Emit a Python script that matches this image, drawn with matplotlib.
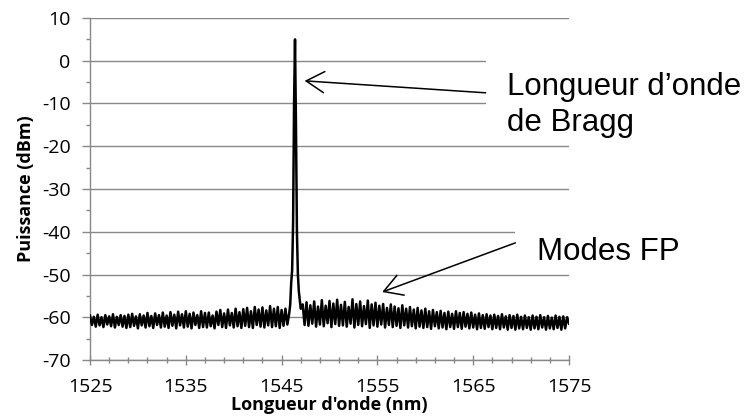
import numpy as np
import matplotlib
matplotlib.use("Agg")
import matplotlib.pyplot as plt
from matplotlib.patches import Rectangle

plt.rcParams["axes.unicode_minus"] = False

# spectre (pas de 0.2 nm hors du pic)
wl_left = np.arange(1525.0, 1545.81, 0.2)
pw_left = [
    -59.6, -61.8, -59.9, -62.2, -59.4, -61.9, -60.0, -62.3, -59.5, -61.7,
    -59.8, -62.1, -59.3, -62.4, -59.9, -61.8, -59.5, -62.2, -59.7, -62.5, -59.4,
    -62.3, -59.2, -62.0, -59.8, -62.6, -59.3, -61.9, -59.6, -62.4, -59.0,
    -62.1, -59.7, -62.5, -59.1, -61.8, -59.5, -62.4, -58.9, -62.2, -59.6,
    -62.5, -58.8, -62.0, -59.4, -62.6, -58.7, -61.9, -59.3, -62.4, -58.6,
    -62.2, -59.2, -62.6, -58.9, -61.8, -59.5, -62.5, -58.6, -62.3, -59.0,
    -62.4, -58.9, -62.1, -59.6, -62.6, -58.7, -61.8, -58.3, -62.3, -59.1,
    -62.5, -58.2, -61.9, -59.0, -62.4, -58.0, -62.1, -58.8, -62.5, -58.1,
    -62.0, -57.8, -62.3, -58.6, -62.5, -57.6, -61.8, -58.2, -62.2, -57.7,
    -62.4, -58.4, -61.9, -57.4, -62.3, -58.0, -62.1, -57.6, -62.5, -58.3,
    -62.0, -58.0, -61.7, -59.0,
]

# pic de Bragg
wl_peak = [1545.9, 1546.0, 1546.1, 1546.2, 1546.3, 1546.4, 1546.5, 1546.6, 1546.7, 1546.8, 1547.0]
pw_peak = [-57.0, -52.0, -49.0, -38.0, -10.0, 5.0, -15.0, -40.0, -50.0, -54.0, -58.0]

wl_right = np.arange(1547.2, 1575.01, 0.2)
pw_right = [
    -57.0, -61.8, -56.5, -62.0, -57.2, -61.5, -56.3, -62.2, -57.5, -61.7,
    -56.0, -62.1, -57.3, -61.4, -56.2, -62.3, -56.8, -61.6, -55.9, -62.0,
    -57.1, -61.9, -56.4, -62.2, -57.6, -61.5, -55.8, -62.4, -56.9, -61.8,
    -56.3, -62.1, -57.4, -61.6, -56.1, -62.5, -57.0, -61.9, -56.6, -62.2,
    -57.3, -61.7, -56.9, -62.4, -57.8, -61.8, -57.0, -62.3, -57.5, -62.0,
    -57.9, -62.5, -57.2, -61.9, -58.0, -62.4, -57.6, -62.1, -58.2, -62.6,
    -57.8, -62.2, -58.4, -62.5, -58.0, -62.3, -58.6, -62.7, -58.3, -62.1,
    -58.8, -62.6, -58.5, -62.4, -59.0, -62.8, -58.7, -62.3, -59.2, -62.7,
    -58.6, -62.3, -59.0, -62.7, -58.8, -62.2, -59.2, -62.6, -58.9, -62.4,
    -59.4, -62.8, -59.1, -62.5, -59.5, -62.7, -59.3, -62.3, -59.6, -62.8,
    -59.4, -62.5, -59.7, -62.8, -59.3, -62.4, -59.8, -62.9, -59.5, -62.5,
    -59.7, -62.9, -59.4, -62.6, -59.9, -62.8, -59.6, -62.5, -60.0, -62.9,
    -59.6, -62.6, -59.9, -62.8, -59.5, -62.4, -60.0, -62.9, -59.7, -62.6,
    -60.1, -62.8, -59.6, -62.5, -59.9, -62.9, -59.8, -62.6, -60.0, -61.5,
]

wl = np.concatenate([wl_left, wl_peak, wl_right])
pw = np.concatenate([pw_left, pw_peak, pw_right])

x_ticks = [1525, 1535, 1545, 1555, 1565, 1575]
y_ticks = [-70, -60, -50, -40, -30, -20, -10, 0, 10]

grid_col = "#888888"
lab_font = "Open Sans"

fig = plt.figure(figsize=(7.52, 4.19), dpi=100)
ax = fig.add_axes([90 / 752, 1 - 360 / 419, 479 / 752, 342 / 419])

ax.plot(wl, pw, color="black", lw=1.8, zorder=3)

ax.set_xlim(1525, 1575)
ax.set_ylim(-70, 10)
ax.set_xticks(x_ticks)
ax.set_xticks(np.arange(1527, 1575, 2), minor=True)
ax.set_yticks(y_ticks)
ax.set_yticks(np.arange(-65, 10, 10), minor=True)

ax.grid(axis="y", which="major", color=grid_col, lw=1.0, zorder=0)
for s in ["top", "right"]:
    ax.spines[s].set_visible(False)
for s in ["left", "bottom"]:
    ax.spines[s].set_color(grid_col)
    ax.spines[s].set_linewidth(1.0)

ax.tick_params(axis="x", which="major", direction="inout", length=7.5, width=1.0,
               color=grid_col, pad=9, labelsize=14)
ax.tick_params(axis="x", which="minor", direction="inout", length=4.5, width=1.0,
               color=grid_col)
ax.tick_params(axis="y", which="major", direction="out", length=6, width=1.0,
               color=grid_col, pad=8, labelsize=14)
ax.tick_params(axis="y", which="minor", direction="out", length=3, width=1.0,
               color=grid_col)
for lab in ax.get_xticklabels() + ax.get_yticklabels():
    lab.set_fontfamily(lab_font)

ax.set_xlabel("Longueur d'onde (nm)", fontfamily=lab_font, fontweight="bold",
              fontsize=13, labelpad=0)
ax.set_ylabel("Puissance (dBm)", fontfamily=lab_font, fontweight="bold",
              fontsize=13, labelpad=5)

# fonds blancs derrière les annotations
ax.add_patch(Rectangle((1566.3, -16.2), 14, 17.3, facecolor="white",
                       edgecolor="none", zorder=2, clip_on=False))
ax.add_patch(Rectangle((1569.4, -48.5), 11, 11.2, facecolor="white",
                       edgecolor="none", zorder=2, clip_on=False))

txt_kw = dict(fontfamily="Liberation Sans", fontsize=22.5, color="black",
              va="baseline", ha="left", zorder=4, clip_on=False)
ax.text(1568.5, -8.0, "Longueur d\u2019onde", **txt_kw)
ax.text(1568.5, -16.4, "de Bragg", **txt_kw)
ax.text(1571.7, -46.6, "Modes FP", **txt_kw)

arrow_kw = dict(arrowstyle="->,head_length=0.65,head_width=0.38", color="black",
                lw=1.1, mutation_scale=20, shrinkA=0, shrinkB=0)
ax.annotate("", xy=(1547.4, -4.7), xytext=(1566.3, -7.5),
            arrowprops=arrow_kw, annotation_clip=False, zorder=5)
ax.annotate("", xy=(1555.5, -54.1), xytext=(1569.4, -42.6),
            arrowprops=arrow_kw, annotation_clip=False, zorder=5)

fig.savefig("out.png", dpi=100)
